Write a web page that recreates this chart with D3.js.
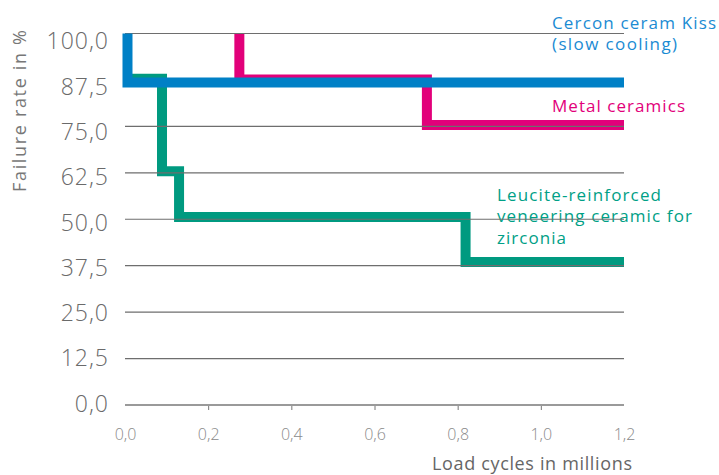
<!DOCTYPE html>
<html>
<head>
<meta charset="utf-8">
<script src="https://cdn.jsdelivr.net/npm/d3@7"></script>
<style>
  html, body { margin: 0; padding: 0; background: #fff; }
  svg { display: block; }
  text { font-family: "Open Sans", "Noto Sans", sans-serif; }
</style>
</head>
<body>
<svg id="chart" width="719" height="475"></svg>
<script>
// ---- data ----
const yTicks = [0, 12.5, 25, 37.5, 50, 62.5, 75, 87.5, 100];
const yTickLabels = ["0,0", "12,5", "25,0", "37,5", "50,0", "62,5", "75,0", "87,5", "100,0"];
const xTicks = [0, 0.2, 0.4, 0.6, 0.8, 1.0, 1.2];
const xTickLabels = ["0,0", "0,2", "0,4", "0,6", "0,8", "1,0", "1,2"];

// step curves: load cycles (millions) and failure rate (%)
const blueX = [0.006, 0.006, 1.2];
const blueY = [100, 86.8, 86.8];
const magentaX = [0.275, 0.275, 0.726, 1.2];
const magentaY = [100, 87.6, 75.4, 75.4];
const greenX = [0, 0.089, 0.13, 0.819, 1.2];
const greenY = [87.8, 62.9, 50.6, 38.5, 38.5];

const seriesNames = ["Cercon ceram Kiss (slow cooling)", "Metal ceramics", "Leucite-reinforced veneering ceramic for zirconia"];

// ---- layout ----
const svg = d3.select("#chart");
const x = d3.scaleLinear().domain([0, 1.2]).range([125, 624]);
const y = d3.scaleLinear().domain([0, 100]).range([405, 33.5]);
const yLab = d3.scaleLinear().domain([0, 100]).range([403.5, 41]);

const colors = { blue: "#0080c6", magenta: "#e2007a", green: "#009a80" };

const line = d3.line().x(d => x(d[0])).y(d => y(d[1])).curve(d3.curveStepAfter);
const pts = (xs, ys) => xs.map((v, i) => [v, ys[i]]);

// ---- series labels ----
const labels = [
  { lines: ["Cercon ceram Kiss", "(slow cooling)"], widths: [164, 125], x: 552, y: 28.5, color: "#1a8bd3" },
  { lines: ["Metal ceramics"], widths: [133], x: 552, y: 112, color: "#e2007a" },
  { lines: ["Leucite-reinforced", "veneering ceramic for", "zirconia"], widths: [164, 195, 69], x: 497, y: 200.5, color: "#00a086" }
];
labels.forEach(l => {
  l.lines.forEach((t, i) => {
    svg.append("text")
      .attr("x", l.x).attr("y", l.y + i * 21.7)
      .attr("fill", l.color)
      .attr("font-size", 17)
      .attr("textLength", l.widths[i])
      .attr("lengthAdjust", "spacing")
      .text(t);
  });
});

// ---- lines below grid ----
svg.append("path").datum(pts(greenX, greenY))
  .attr("d", line).attr("fill", "none").attr("stroke", colors.green)
  .attr("stroke-width", 10).attr("stroke-linejoin", "miter").attr("stroke-linecap", "butt");
svg.append("path").datum(pts(magentaX, magentaY))
  .attr("d", line).attr("fill", "none").attr("stroke", colors.magenta)
  .attr("stroke-width", 10).attr("stroke-linejoin", "miter").attr("stroke-linecap", "butt");

// ---- grid ----
svg.append("g").selectAll("line").data(yTicks.filter(v => v > 0)).join("line")
  .attr("x1", x(0)).attr("x2", x(1.2))
  .attr("y1", d => y(d)).attr("y2", d => y(d))
  .attr("stroke", "#6e6e6e").attr("stroke-width", 1.2);

// ---- x axis ----
const xAxis = d3.axisBottom(x).tickValues(xTicks).tickSize(5).tickFormat((d, i) => xTickLabels[i]);
const gx = svg.append("g").attr("transform", `translate(0,${y(0)})`).call(xAxis);
gx.select(".domain").attr("stroke", "#9a9a9a").attr("stroke-width", 2).attr("d", `M${x(0)},0H${x(1.2)}`);
gx.selectAll(".tick line").attr("stroke", "#777").attr("stroke-width", 1)
  .attr("y1", 1).attr("y2", 5)
  .attr("opacity", d => (d === 0 || d === 1.2) ? 0 : 1);
gx.selectAll(".tick text").attr("font-size", 16).attr("font-weight", 300)
  .attr("fill", "#8a8a8a").attr("y", 35).attr("dy", 0)
  .attr("font-family", '"Open Sans", sans-serif');

// ---- y labels ----
svg.append("g").selectAll("text").data(yTicks).join("text")
  .attr("x", 109).attr("y", d => yLab(d)).attr("dy", "0.36em")
  .attr("text-anchor", "end").attr("font-size", 23).attr("font-weight", 300)
  .attr("letter-spacing", 1)
  .attr("fill", "#6a6a6a")
  .text((d, i) => yTickLabels[i]);

// ---- blue line on top ----
svg.append("path").datum(pts(blueX, blueY))
  .attr("d", line).attr("fill", "none").attr("stroke", colors.blue)
  .attr("stroke-width", 10).attr("stroke-linejoin", "miter").attr("stroke-linecap", "butt");

// ---- axis titles ----
svg.append("text")
  .attr("x", 632).attr("y", 470).attr("text-anchor", "end")
  .attr("font-size", 18).attr("fill", "#666")
  .attr("textLength", 200).attr("lengthAdjust", "spacing")
  .text("Load cycles in millions");
svg.append("text")
  .attr("transform", "translate(26,192) rotate(-90)")
  .attr("font-size", 18).attr("fill", "#777")
  .attr("textLength", 162).attr("lengthAdjust", "spacing")
  .text("Failure rate in %");
</script>
</body>
</html>
